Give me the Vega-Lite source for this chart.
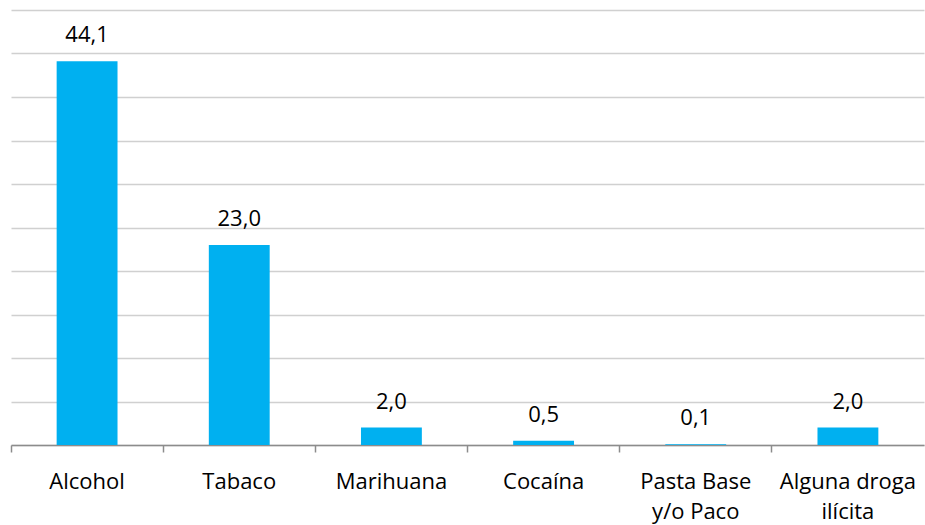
{
  "$schema": "https://vega.github.io/schema/vega-lite/v6.json",
  "width": 913,
  "height": 435,
  "autosize": "none",
  "padding": {"left": 11, "top": 10, "right": 1, "bottom": 80},
  "config": {
    "view": {"stroke": null},
    "font": "Open Sans",
    "locale": {"number": {"decimal": ",", "thousands": ".", "grouping": [3], "currency": ["", " €"]}}
  },
  "data": {
    "values": [
      {"sustancia": "Alcohol", "valor": 44.1},
      {"sustancia": "Tabaco", "valor": 23.0},
      {"sustancia": "Marihuana", "valor": 2.0},
      {"sustancia": "Cocaína", "valor": 0.5},
      {"sustancia": "Pasta Base y/o Paco", "valor": 0.1},
      {"sustancia": "Alguna droga ilícita", "valor": 2.0}
    ]
  },
  "encoding": {
    "x": {
      "field": "sustancia",
      "type": "nominal",
      "sort": null,
      "scale": {"paddingInner": 0, "paddingOuter": 0},
      "axis": {
        "title": null,
        "labelAngle": 0,
        "bandPosition": 0,
        "domainColor": "#8c8c8c",
        "domainWidth": 1.5,
        "tickColor": "#8c8c8c",
        "tickWidth": 1.5,
        "tickSize": 7,
        "labelPadding": 36,
        "labelFont": "Open Sans",
        "labelFontSize": 22,
        "labelColor": "#000000",
        "labelLineHeight": 30,
        "labelBaseline": "alphabetic",
        "labelExpr": "datum.label == 'Pasta Base y/o Paco' ? ['Pasta Base', 'y/o Paco'] : datum.label == 'Alguna droga ilícita' ? ['Alguna droga', 'ilícita'] : datum.label"
      }
    },
    "y": {
      "field": "valor",
      "type": "quantitative",
      "scale": {"domain": [0, 50], "nice": false},
      "axis": {
        "title": null,
        "labels": false,
        "ticks": false,
        "domain": false,
        "values": [0, 5, 10, 15, 20, 25, 30, 35, 40, 45, 50],
        "gridColor": "#d0d0d0",
        "gridWidth": 1.5
      }
    }
  },
  "layer": [
    {"mark": {"type": "bar", "color": "#00B0F0", "width": {"band": 0.4}}},
    {
      "mark": {"type": "text", "dy": -19, "fontSize": 22, "font": "Open Sans", "color": "#000000", "baseline": "alphabetic"},
      "encoding": {"text": {"field": "valor", "type": "quantitative", "format": ".1f"}}
    }
  ]
}
